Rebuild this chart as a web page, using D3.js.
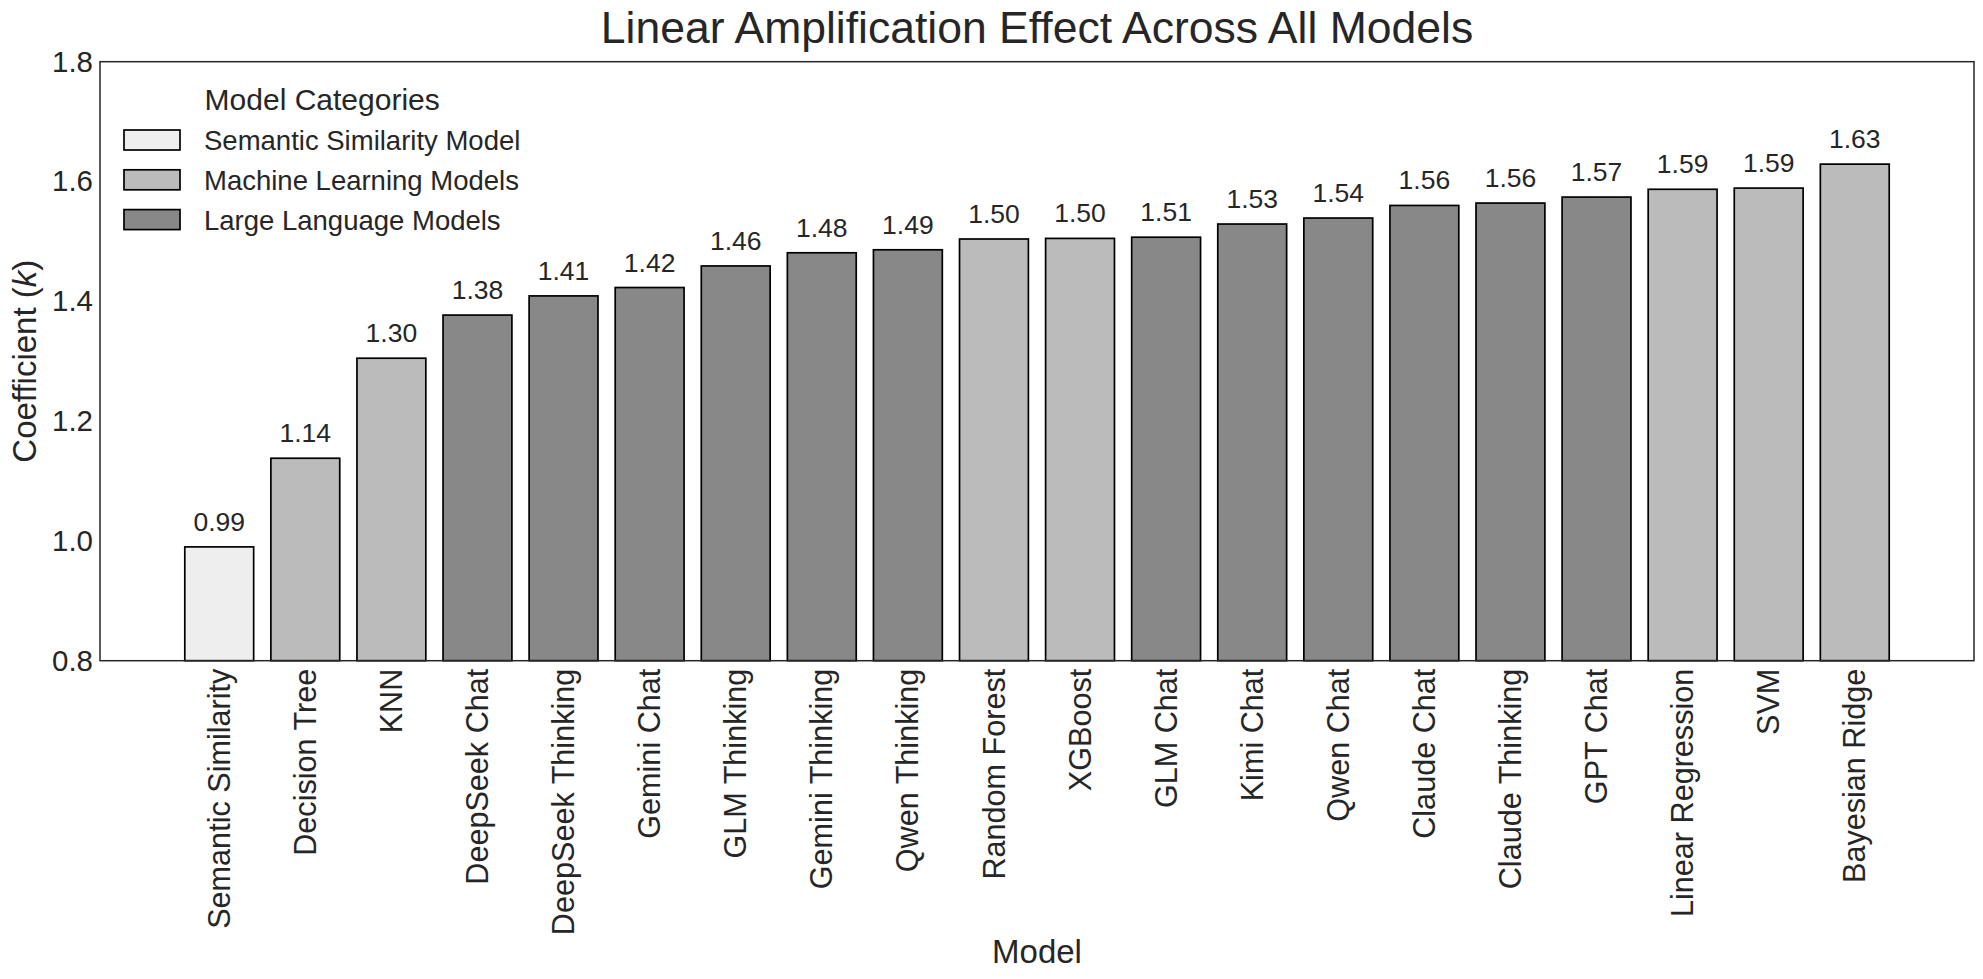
<!DOCTYPE html>
<html>
<head>
<meta charset="utf-8">
<script src="https://cdn.jsdelivr.net/npm/d3@7"></script>
<style>
  html, body { margin: 0; padding: 0; background: #fff; }
  svg { display: block; font-family: "Liberation Sans", Arial, sans-serif; }
</style>
</head>
<body>
<svg id="chart" width="1983" height="979"></svg>
<script>
// ---- data ----
const models = ["Semantic Similarity", "Decision Tree", "KNN", "DeepSeek Chat", "DeepSeek Thinking",
  "Gemini Chat", "GLM Thinking", "Gemini Thinking", "Qwen Thinking", "Random Forest", "XGBoost",
  "GLM Chat", "Kimi Chat", "Qwen Chat", "Claude Chat", "Claude Thinking", "GPT Chat",
  "Linear Regression", "SVM", "Bayesian Ridge"];
const coefficients = [0.990, 1.138, 1.305, 1.377, 1.409, 1.423, 1.459, 1.481, 1.486, 1.504, 1.505,
  1.507, 1.529, 1.539, 1.560, 1.564, 1.574, 1.587, 1.589, 1.629];
const categoryOfModel = ["semantic", "ml", "ml", "llm", "llm", "llm", "llm", "llm", "llm", "ml", "ml",
  "llm", "llm", "llm", "llm", "llm", "llm", "ml", "ml", "ml"];
const categoryKeys = ["semantic", "ml", "llm"];
const categoryNames = ["Semantic Similarity Model", "Machine Learning Models", "Large Language Models"];
const categoryColors = ["#EEEEEE", "#BBBBBB", "#888888"];
const yTicks = [0.8, 1.0, 1.2, 1.4, 1.6, 1.8];

// ---- layout ----
const svg = d3.select("#chart");
const L = 100, R = 1974, T = 61.7, B = 660.7;
const textColor = "#262626";

const x = d3.scaleLinear().domain([-1.385, models.length - 1 + 1.385]).range([L, R]);
const step = x(1) - x(0);
const barW = step * 0.8;
const y = d3.scaleLinear().domain([0.8, 1.8]).range([B, T]);
const color = d3.scaleOrdinal().domain(categoryKeys).range(categoryColors);

// title
svg.append("text")
  .attr("x", (L + R) / 2).attr("y", 43)
  .attr("text-anchor", "middle")
  .attr("font-size", 44.5).attr("fill", textColor)
  .text("Linear Amplification Effect Across All Models");

// bars
const data = models.map((m, i) => ({ m, v: coefficients[i], c: categoryOfModel[i], i }));
svg.append("g").selectAll("rect").data(data).join("rect")
  .attr("x", d => x(d.i) - barW / 2)
  .attr("width", barW)
  .attr("y", d => y(d.v))
  .attr("height", d => y(0.8) - y(d.v))
  .attr("fill", d => color(d.c))
  .attr("stroke", "#000").attr("stroke-width", 1.7);

// value labels
svg.append("g").selectAll("text").data(data).join("text")
  .attr("x", d => x(d.i))
  .attr("y", d => y(d.v) - 16)
  .attr("text-anchor", "middle")
  .attr("font-size", 26.5).attr("fill", textColor)
  .text(d => d.v.toFixed(2));

// frame
svg.append("rect")
  .attr("x", L).attr("y", T).attr("width", R - L).attr("height", B - T)
  .attr("fill", "none").attr("stroke", textColor).attr("stroke-width", 1.5);

// y axis
const yAxis = d3.axisLeft(y).tickValues(yTicks).tickFormat(d3.format(".1f")).tickSize(0).tickPadding(7);
const gy = svg.append("g").attr("transform", `translate(${L},0)`).call(yAxis);
gy.select(".domain").remove();
gy.selectAll("text").attr("font-size", 29.5).attr("fill", textColor)
  .attr("font-family", "Liberation Sans, Arial, sans-serif");

// x axis
const xAxis = d3.axisBottom(x).tickValues(d3.range(models.length)).tickFormat(i => models[i]).tickSize(0);
const gx = svg.append("g").attr("transform", `translate(0,${B})`).call(xAxis);
gx.select(".domain").remove();
gx.selectAll("text")
  .attr("font-size", 30.6).attr("fill", textColor)
  .attr("font-family", "Liberation Sans, Arial, sans-serif")
  .attr("text-anchor", "end")
  .attr("transform", "rotate(-90)")
  .attr("x", -8).attr("y", 0).attr("dy", "0.33em");

// axis labels
svg.append("text")
  .attr("x", (L + R) / 2).attr("y", 963)
  .attr("text-anchor", "middle")
  .attr("font-size", 33).attr("fill", textColor)
  .text("Model");

const yl = svg.append("text")
  .attr("transform", `translate(36,${(T + B) / 2}) rotate(-90)`)
  .attr("text-anchor", "middle")
  .attr("font-size", 33).attr("fill", textColor);
yl.append("tspan").text("Coefficient (");
yl.append("tspan").attr("font-style", "italic").text("k");
yl.append("tspan").text(")");

// legend
const lg = svg.append("g");
const patchX = 124, patchW = 56, textX = 204;
categoryKeys.forEach((k, i) => {
  const base = 150 + i * 39.8;
  lg.append("rect")
    .attr("x", patchX).attr("y", base - 20).attr("width", patchW).attr("height", 20)
    .attr("fill", categoryColors[i]).attr("stroke", "#000").attr("stroke-width", 1.7);
  lg.append("text")
    .attr("class", "legend-label")
    .attr("x", textX).attr("y", base)
    .attr("font-size", 27.5).attr("fill", textColor)
    .text(categoryNames[i]);
});
let maxW = 0;
lg.selectAll(".legend-label").each(function () { maxW = Math.max(maxW, this.getComputedTextLength()); });
lg.append("text")
  .attr("x", (patchX + textX + maxW) / 2).attr("y", 110)
  .attr("text-anchor", "middle")
  .attr("font-size", 30).attr("fill", textColor)
  .text("Model Categories");
</script>
</body>
</html>
